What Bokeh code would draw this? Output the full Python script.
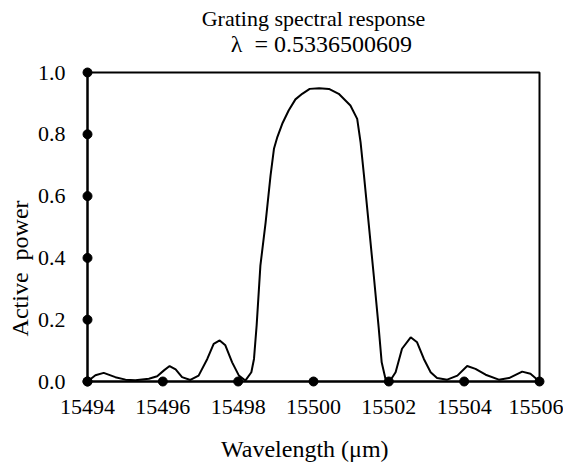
import math
from bokeh.plotting import figure
from bokeh.models import Range1d, FixedTicker, PrintfTickFormatter
from bokeh.core.properties import value
from bokeh.embed import file_html
from bokeh.resources import INLINE

# Data
wavelength = [15494.00, 15494.21, 15494.43, 15494.74, 15495.01, 15495.27, 15495.63,
              15495.85, 15496.03, 15496.18, 15496.34, 15496.51, 15496.73, 15496.95,
              15497.18, 15497.35, 15497.51, 15497.66, 15497.84, 15498.02, 15498.19,
              15498.35, 15498.42, 15498.49, 15498.59, 15498.73, 15498.86, 15498.95,
              15499.04, 15499.17, 15499.34, 15499.52, 15499.70, 15499.90, 15500.15,
              15500.41, 15500.67, 15500.98, 15501.16, 15501.25, 15501.34, 15501.47,
              15501.60, 15501.73, 15501.81, 15501.91, 15502.02, 15502.18, 15502.35,
              15502.58, 15502.75, 15502.93, 15503.11, 15503.28, 15503.55, 15503.82,
              15504.08, 15504.30, 15504.57, 15504.92, 15505.19, 15505.54, 15505.76,
              15506.00]
power = [0.000, 0.020, 0.028, 0.014, 0.006, 0.004, 0.009,
         0.017, 0.036, 0.050, 0.039, 0.014, 0.005, 0.019,
         0.073, 0.122, 0.133, 0.117, 0.062, 0.019, 0.003,
         0.030, 0.073, 0.181, 0.375, 0.516, 0.667, 0.753,
         0.791, 0.834, 0.877, 0.913, 0.931, 0.947, 0.949,
         0.947, 0.931, 0.893, 0.850, 0.774, 0.667, 0.505,
         0.343, 0.175, 0.062, 0.009, 0.000, 0.030, 0.106,
         0.143, 0.127, 0.073, 0.030, 0.011, 0.006, 0.019,
         0.050, 0.041, 0.022, 0.006, 0.011, 0.032, 0.025,
         0.000]

x_ticks = [15494, 15496, 15498, 15500, 15502, 15504, 15506]
y_ticks = [0.0, 0.2, 0.4, 0.6, 0.8, 1.0]

title_text = "Grating spectral response"
subtitle_text = "λ \u00a0= 0.5336500609"
x_label = "Wavelength (μm)"
y_label = "Active \u00a0power"

FONT = "Liberation Serif"

p = figure(width=563, height=464, output_backend="svg", toolbar_location=None,
           x_range=Range1d(x_ticks[0], x_ticks[-1]), y_range=Range1d(y_ticks[0], y_ticks[-1]),
           min_border_left=87, min_border_right=24, min_border_top=72, min_border_bottom=83)

p.grid.visible = False
p.outline_line_color = "black"
p.outline_line_width = 2
p.background_fill_color = "white"
p.border_fill_color = "white"

for ax in (p.xaxis[0], p.yaxis[0]):
    ax.axis_line_width = 2
    ax.axis_line_color = "black"
    ax.major_tick_line_color = None
    ax.minor_tick_line_color = None
    ax.major_tick_out = 0
    ax.major_tick_in = 0
    ax.major_label_text_font = FONT
    ax.major_label_text_font_size = "22px"
    ax.major_label_text_color = "black"

p.xaxis.ticker = FixedTicker(ticks=x_ticks)
p.xaxis.formatter = PrintfTickFormatter(format="%d")
p.xaxis.major_label_standoff = 18

p.yaxis.ticker = FixedTicker(ticks=y_ticks)
p.yaxis.formatter = PrintfTickFormatter(format="%.1f")
p.yaxis.major_label_standoff = 22

# Titles and axis titles as text placed outside the frame
x_mid = (x_ticks[0] + x_ticks[-1]) / 2
y_top = y_ticks[-1]
p.text(x=[x_mid], y=[y_top + 0.175], text=[title_text],
       text_align="center", text_baseline="alphabetic", text_font=value(FONT),
       text_font_size="22px", text_color="black", level="overlay")
p.text(x=[x_mid + 0.21], y=[y_top + 0.091], text=[subtitle_text],
       text_align="center", text_baseline="alphabetic", text_font=value(FONT),
       text_font_size="24px", text_color="black", level="overlay")
p.text(x=[x_mid - 0.23], y=[y_ticks[0] - 0.217], text=[x_label],
       text_align="center", text_baseline="middle", text_font=value(FONT),
       text_font_size="24px", text_color="black", level="overlay")
p.text(x=[x_ticks[0] - 1.805], y=[0.366], text=[y_label], angle=math.pi / 2,
       text_align="center", text_baseline="middle", text_font=value(FONT),
       text_font_size="24px", text_color="black", level="overlay")

p.line(wavelength, power, line_color="black", line_width=2, level="overlay")

p.scatter(x_ticks, [y_ticks[0]] * len(x_ticks), size=9, color="black", level="overlay")
p.scatter([x_ticks[0]] * len(y_ticks), y_ticks, size=9, color="black", level="overlay")

open("out.html", "w").write(file_html(p, INLINE))
